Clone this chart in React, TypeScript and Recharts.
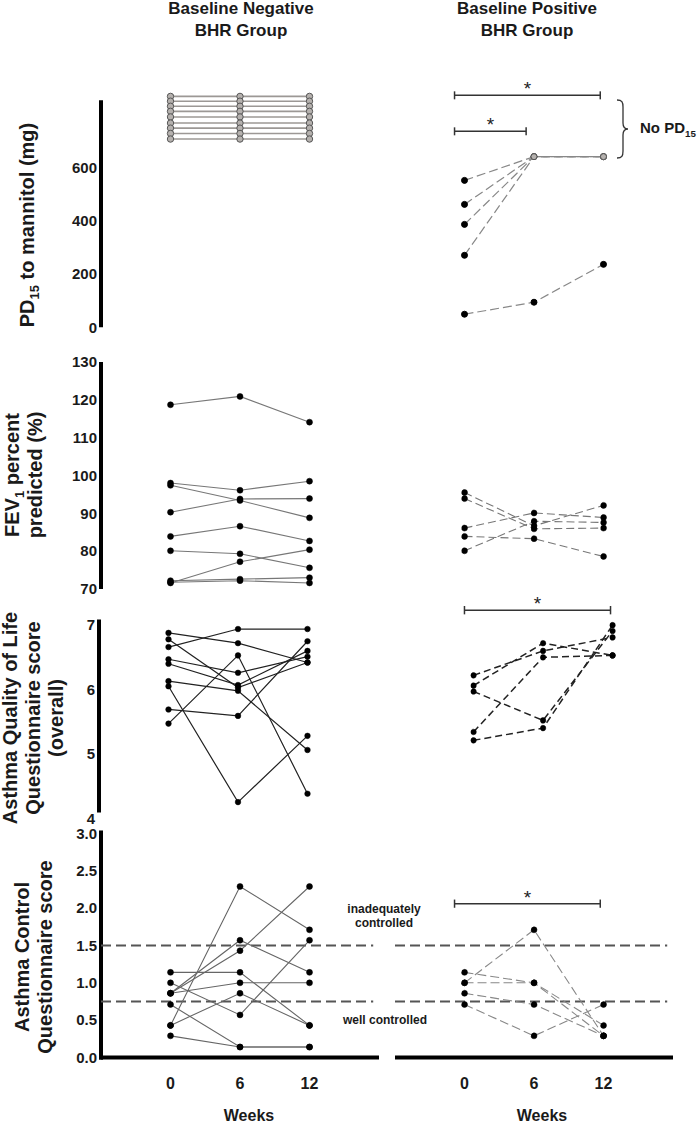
import React from 'react';
import { LineChart, Line, XAxis, YAxis, ReferenceLine } from 'recharts';

// ---- data ----
const weeks = [0, 6, 12];
const NO_PD15 = 640; // plotted value used for "no PD15 reached"

const pd15Negative = [
  [866, 866, 866],
  [848, 848, 848],
  [829, 829, 829],
  [810, 810, 810],
  [789, 789, 789],
  [766, 766, 766],
  [747, 747, 747],
  [727, 727, 727],
  [706, 706, 706],
];
const pd15Positive = [
  [551, NO_PD15, NO_PD15],
  [461, NO_PD15, NO_PD15],
  [386, NO_PD15, NO_PD15],
  [270, NO_PD15, NO_PD15],
  [49, 94, 236],
];

const fev1Negative = [
  [118.7, 120.9, 114.1],
  [98.0, 96.1, 98.5],
  [97.4, 93.4, 88.8],
  [90.3, 93.8, 93.9],
  [83.9, 86.6, 82.7],
  [80.1, 79.3, 75.6],
  [71.6, 77.2, 80.4],
  [72.2, 72.6, 73.0],
  [71.8, 72.2, 71.6],
];
const fev1Positive = [
  [95.5, 86.7, 92.1],
  [93.9, 85.9, 86.1],
  [86.1, 90.1, 88.9],
  [83.9, 83.3, 78.6],
  [80.1, 87.9, 87.6],
];

const aqlqNegative = [
  [6.66, 6.94, 6.94],
  [6.88, 6.72, 6.42],
  [6.78, 6.03, 6.42],
  [6.05, 4.25, 5.28],
  [5.47, 6.53, 4.38],
  [5.69, 5.59, 6.75],
  [6.47, 6.26, 6.51],
  [6.40, 6.07, 6.60],
  [6.13, 5.98, 5.06],
];
const aqlqPositive = [
  [6.22, 6.60, 6.81],
  [6.06, 6.72, 6.53],
  [5.97, 5.52, 6.91],
  [5.34, 6.50, 6.53],
  [5.21, 5.40, 7.0],
];

const acqNegative = [
  [0.43, 2.29, 1.71],
  [0.86, 1.43, 2.29],
  [0.86, 1.57, 1.14],
  [1.14, 1.14, 0.43],
  [0.86, 1.0, 1.0],
  [1.0, 0.57, 1.57],
  [0.43, 0.86, 0.43],
  [0.71, 0.14, 0.14],
  [0.29, 0.14, 0.14],
];
const acqPositive = [
  [1.0, 1.71, 0.29],
  [1.14, 1.0, 0.43],
  [1.0, 1.0, 0.29],
  [0.86, 0.71, 0.29],
  [0.71, 0.29, 0.71],
];
const acqInadequate = 1.5;
const acqWell = 0.75;

const pd15Ticks = [0, 200, 400, 600];
const fev1Ticks = [70, 80, 90, 100, 110, 120, 130];
const aqlqTicks = [4, 5, 6, 7];
const acqTicks = [0, 0.5, 1, 1.5, 2, 2.5, 3];

// ---- layout ----
const FONT = '"Liberation Sans", Arial, Helvetica, sans-serif';
const INK = '#1a1a1a';
const X_DOMAIN: [number, number] = [-6, 18];
const PLOT_W = 278;
const Y_W = 50;
const AXIS_X = 101;
const RIGHT_X = 395;
const PAD = 10;

const blackDot = { r: 3, fill: '#000', stroke: '#000', strokeWidth: 0.5 };
const greyDot = { r: 3.2, fill: '#b5b1ae', stroke: '#555', strokeWidth: 1 };

const pd15Dot = (p: any) => {
  const none = p.payload && p.payload.y === NO_PD15;
  return (
    <circle
      key={`d-${p.index}-${p.cx}-${p.cy}`}
      cx={p.cx}
      cy={p.cy}
      r={3}
      fill={none ? '#b5b1ae' : '#000'}
      stroke={none ? '#555' : '#000'}
      strokeWidth={1}
    />
  );
};

function sigBar(key: string, x1: number, x2: number, y: number, cap: number) {
  const s = { stroke: '#333', strokeWidth: 1.5, ifOverflow: 'visible' as const };
  return [
    <ReferenceLine
      key={key + 'h'}
      segment={[{ x: x1, y }, { x: x2, y }]}
      {...s}
      label={{ value: '*', position: 'top', offset: 0, fill: '#222', fontSize: 19, fontFamily: FONT }}
    />,
    <ReferenceLine key={key + 'a'} segment={[{ x: x1, y: y - cap }, { x: x1, y: y + cap }]} {...s} />,
    <ReferenceLine key={key + 'b'} segment={[{ x: x2, y: y - cap }, { x: x2, y: y + cap }]} {...s} />,
  ];
}

function thresholds(key: string) {
  return [acqInadequate, acqWell].map((v, i) => (
    <ReferenceLine
      key={key + i}
      segment={[{ x: -6, y: v }, { x: 17.5, y: v }]}
      stroke="#555"
      strokeWidth={2}
      strokeDasharray="10 5"
      ifOverflow="visible"
    />
  ));
}

type PanelProps = {
  side: 'left' | 'right';
  dx?: number;
  plotTop: number;
  plotH: number;
  domain: [number, number];
  ticks?: number[];
  fmt?: (v: number) => string;
  axisRange?: [number, number];
  series: number[][];
  stroke: string;
  strokeWidth: number;
  dash?: string;
  dot: any;
  showX?: boolean;
  extras?: React.ReactNode[];
};

function Panel(p: PanelProps) {
  const isLeft = p.side === 'left';
  const xH = 70;
  const width = isLeft ? Y_W + PLOT_W : PLOT_W;
  const left = (isLeft ? AXIS_X - Y_W : RIGHT_X) + (p.dx || 0);
  const height = PAD + p.plotH + (p.showX ? xH : PAD);
  const tickStyle = { fill: INK, fontSize: 15, fontWeight: 'bold', fontFamily: FONT };
  return (
    <div style={{ position: 'absolute', left, top: p.plotTop - PAD }}>
      <LineChart width={width} height={height} margin={{ top: PAD, right: 0, left: 0, bottom: p.showX ? 0 : PAD }}>
        <XAxis
          type="number"
          dataKey="x"
          domain={X_DOMAIN}
          ticks={weeks}
          hide={!p.showX}
          height={xH}
          axisLine={{ stroke: '#000', strokeWidth: 4 }}
          tickLine={false}
          tickSize={4}
          tickMargin={16}
          tick={{ fill: INK, fontSize: 16, fontWeight: 'bold', fontFamily: FONT }}
        />
        <YAxis
          type="number"
          domain={p.domain}
          ticks={p.ticks}
          hide={!isLeft}
          width={Y_W}
          axisLine={false}
          tickLine={false}
          tickSize={0}
          tickMargin={4}
          tick={tickStyle}
          tickFormatter={p.fmt}
          allowDataOverflow
        />
        {isLeft && p.axisRange && (
          <ReferenceLine
            segment={[{ x: -6, y: p.axisRange[0] }, { x: -6, y: p.axisRange[1] }]}
            stroke="#000"
            strokeWidth={4}
            ifOverflow="visible"
          />
        )}
        {p.extras}
        {p.series.map((vals, i) => (
          <Line
            key={i}
            data={weeks.map((w, j) => ({ x: w, y: vals[j] }))}
            dataKey="y"
            stroke={p.stroke}
            strokeWidth={p.strokeWidth}
            strokeDasharray={p.dash}
            dot={p.dot}
            activeDot={false}
            isAnimationActive={false}
          />
        ))}
      </LineChart>
    </div>
  );
}

const rotLabel = (cx: number, cy: number, lines: React.ReactNode[]) => (
  <div
    style={{
      position: 'absolute',
      left: cx,
      top: cy,
      transform: 'translate(-50%, -50%) rotate(-90deg)',
      whiteSpace: 'nowrap',
      textAlign: 'center',
      fontFamily: FONT,
      fontWeight: 'bold',
      fontSize: 20,
      lineHeight: '23px',
      color: INK,
    }}
  >
    {lines.map((l, i) => (
      <div key={i}>{l}</div>
    ))}
  </div>
);

const sub = (t: string) => <sub style={{ fontSize: '0.65em', lineHeight: 0 }}>{t}</sub>;

const textAt = (x: number, y: number, content: React.ReactNode, size: number, extra: React.CSSProperties = {}) => (
  <div
    style={{
      position: 'absolute',
      left: x,
      top: y,
      transform: 'translateX(-50%)',
      whiteSpace: 'nowrap',
      textAlign: 'center',
      fontFamily: FONT,
      fontWeight: 'bold',
      fontSize: size,
      color: INK,
      ...extra,
    }}
  >
    {content}
  </div>
);

export default function App() {
  return (
    <div style={{ position: 'absolute', left: 0, top: 0, width: 700, height: 1123, background: '#fff', overflow: 'hidden' }}>
      {textAt(241, -2, <>Baseline Negative<br />BHR Group</>, 17, { lineHeight: '22px' })}
      {textAt(527, -2, <>Baseline Positive<br />BHR Group</>, 17, { lineHeight: '22px' })}

      {rotLabel(27, 225, [<>PD{sub('15')} to mannitol (mg)</>])}
      {rotLabel(24, 475, [<>FEV{sub('1')} percent</>, 'predicted (%)'])}
      {rotLabel(33, 718, ['Asthma Quality of Life', 'Questionnaire score', '(overall)'])}
      {rotLabel(34, 957, ['Asthma Control', 'Questionnaire score'])}

      {/* PD15 */}
      <Panel side="left" plotTop={73.7} plotH={253.3} domain={[0, 950]} ticks={pd15Ticks} axisRange={[0, 852]}
        series={pd15Negative} stroke="#9c9895" strokeWidth={1.6} dot={greyDot} />
      <Panel side="right" plotTop={73.7} plotH={253.3} domain={[0, 950]} series={pd15Positive}
        stroke="#888" strokeWidth={1.2} dash="9 4" dot={pd15Dot}
        extras={[...sigBar('p1', -0.86, 11.72, 870, 15), ...sigBar('p2', -0.86, 5.32, 735, 15)]} />

      {/* FEV1 */}
      <Panel side="left" plotTop={362} plotH={227} domain={[70, 130]} ticks={fev1Ticks} axisRange={[70, 130]}
        series={fev1Negative} stroke="#777" strokeWidth={1.1} dot={blackDot} />
      <Panel side="right" plotTop={362} plotH={227} domain={[70, 130]} series={fev1Positive}
        stroke="#777" strokeWidth={1.1} dash="8 4" dot={blackDot} />

      {/* AQLQ */}
      <Panel side="left" dx={-2} plotTop={592.8} plotH={225.2} domain={[4, 7.5]} ticks={aqlqTicks} axisRange={[4.09, 7.09]}
        series={aqlqNegative} stroke="#222" strokeWidth={1.2} dot={{ ...blackDot, r: 2.8 }} />
      <Panel side="right" dx={9} plotTop={592.8} plotH={225.2} domain={[4, 7.5]} series={aqlqPositive}
        stroke="#222" strokeWidth={1.5} dash="7 4" dot={{ ...blackDot, r: 2.8 }}
        extras={sigBar('a1', -0.78, 11.83, 7.233, 0.065)} />

      {/* ACQ */}
      <Panel side="left" plotTop={825.5} plotH={231.5} domain={[0, 3.1]} ticks={acqTicks} axisRange={[-0.03, 3.04]}
        fmt={(v) => v.toFixed(1)} series={acqNegative} stroke="#666" strokeWidth={1.1} dot={blackDot} showX
        extras={thresholds('tl')} />
      <Panel side="right" plotTop={825.5} plotH={231.5} domain={[0, 3.1]} series={acqPositive}
        stroke="#888" strokeWidth={1.1} dash="9 4" dot={blackDot} showX
        extras={[...thresholds('tr'), ...sigBar('c1', -0.86, 11.72, 2.06, 0.055)]} />

      {/* brace + No PD15 */}
      <svg style={{ position: 'absolute', left: 617, top: 99 }} width={14} height={62}>
        <path d="M0,1 C5,1 6,3 6,8 L6,24 C6,28 8,30 11,30 C8,30 6,32 6,36 L6,52 C6,57 5,59 0,59"
          fill="none" stroke="#333" strokeWidth={1.3} />
      </svg>
      <div style={{ position: 'absolute', left: 640, top: 119, fontFamily: FONT, fontWeight: 'bold', fontSize: 15, color: INK, whiteSpace: 'nowrap' }}>
        No PD{sub('15')}
      </div>

      {textAt(384, 902, <>inadequately<br />controlled</>, 12, { lineHeight: '14px' })}
      {textAt(385, 1013, 'well controlled', 12)}

      {textAt(249, 1107, 'Weeks', 16)}
      {textAt(542, 1107, 'Weeks', 16)}
    </div>
  );
}
